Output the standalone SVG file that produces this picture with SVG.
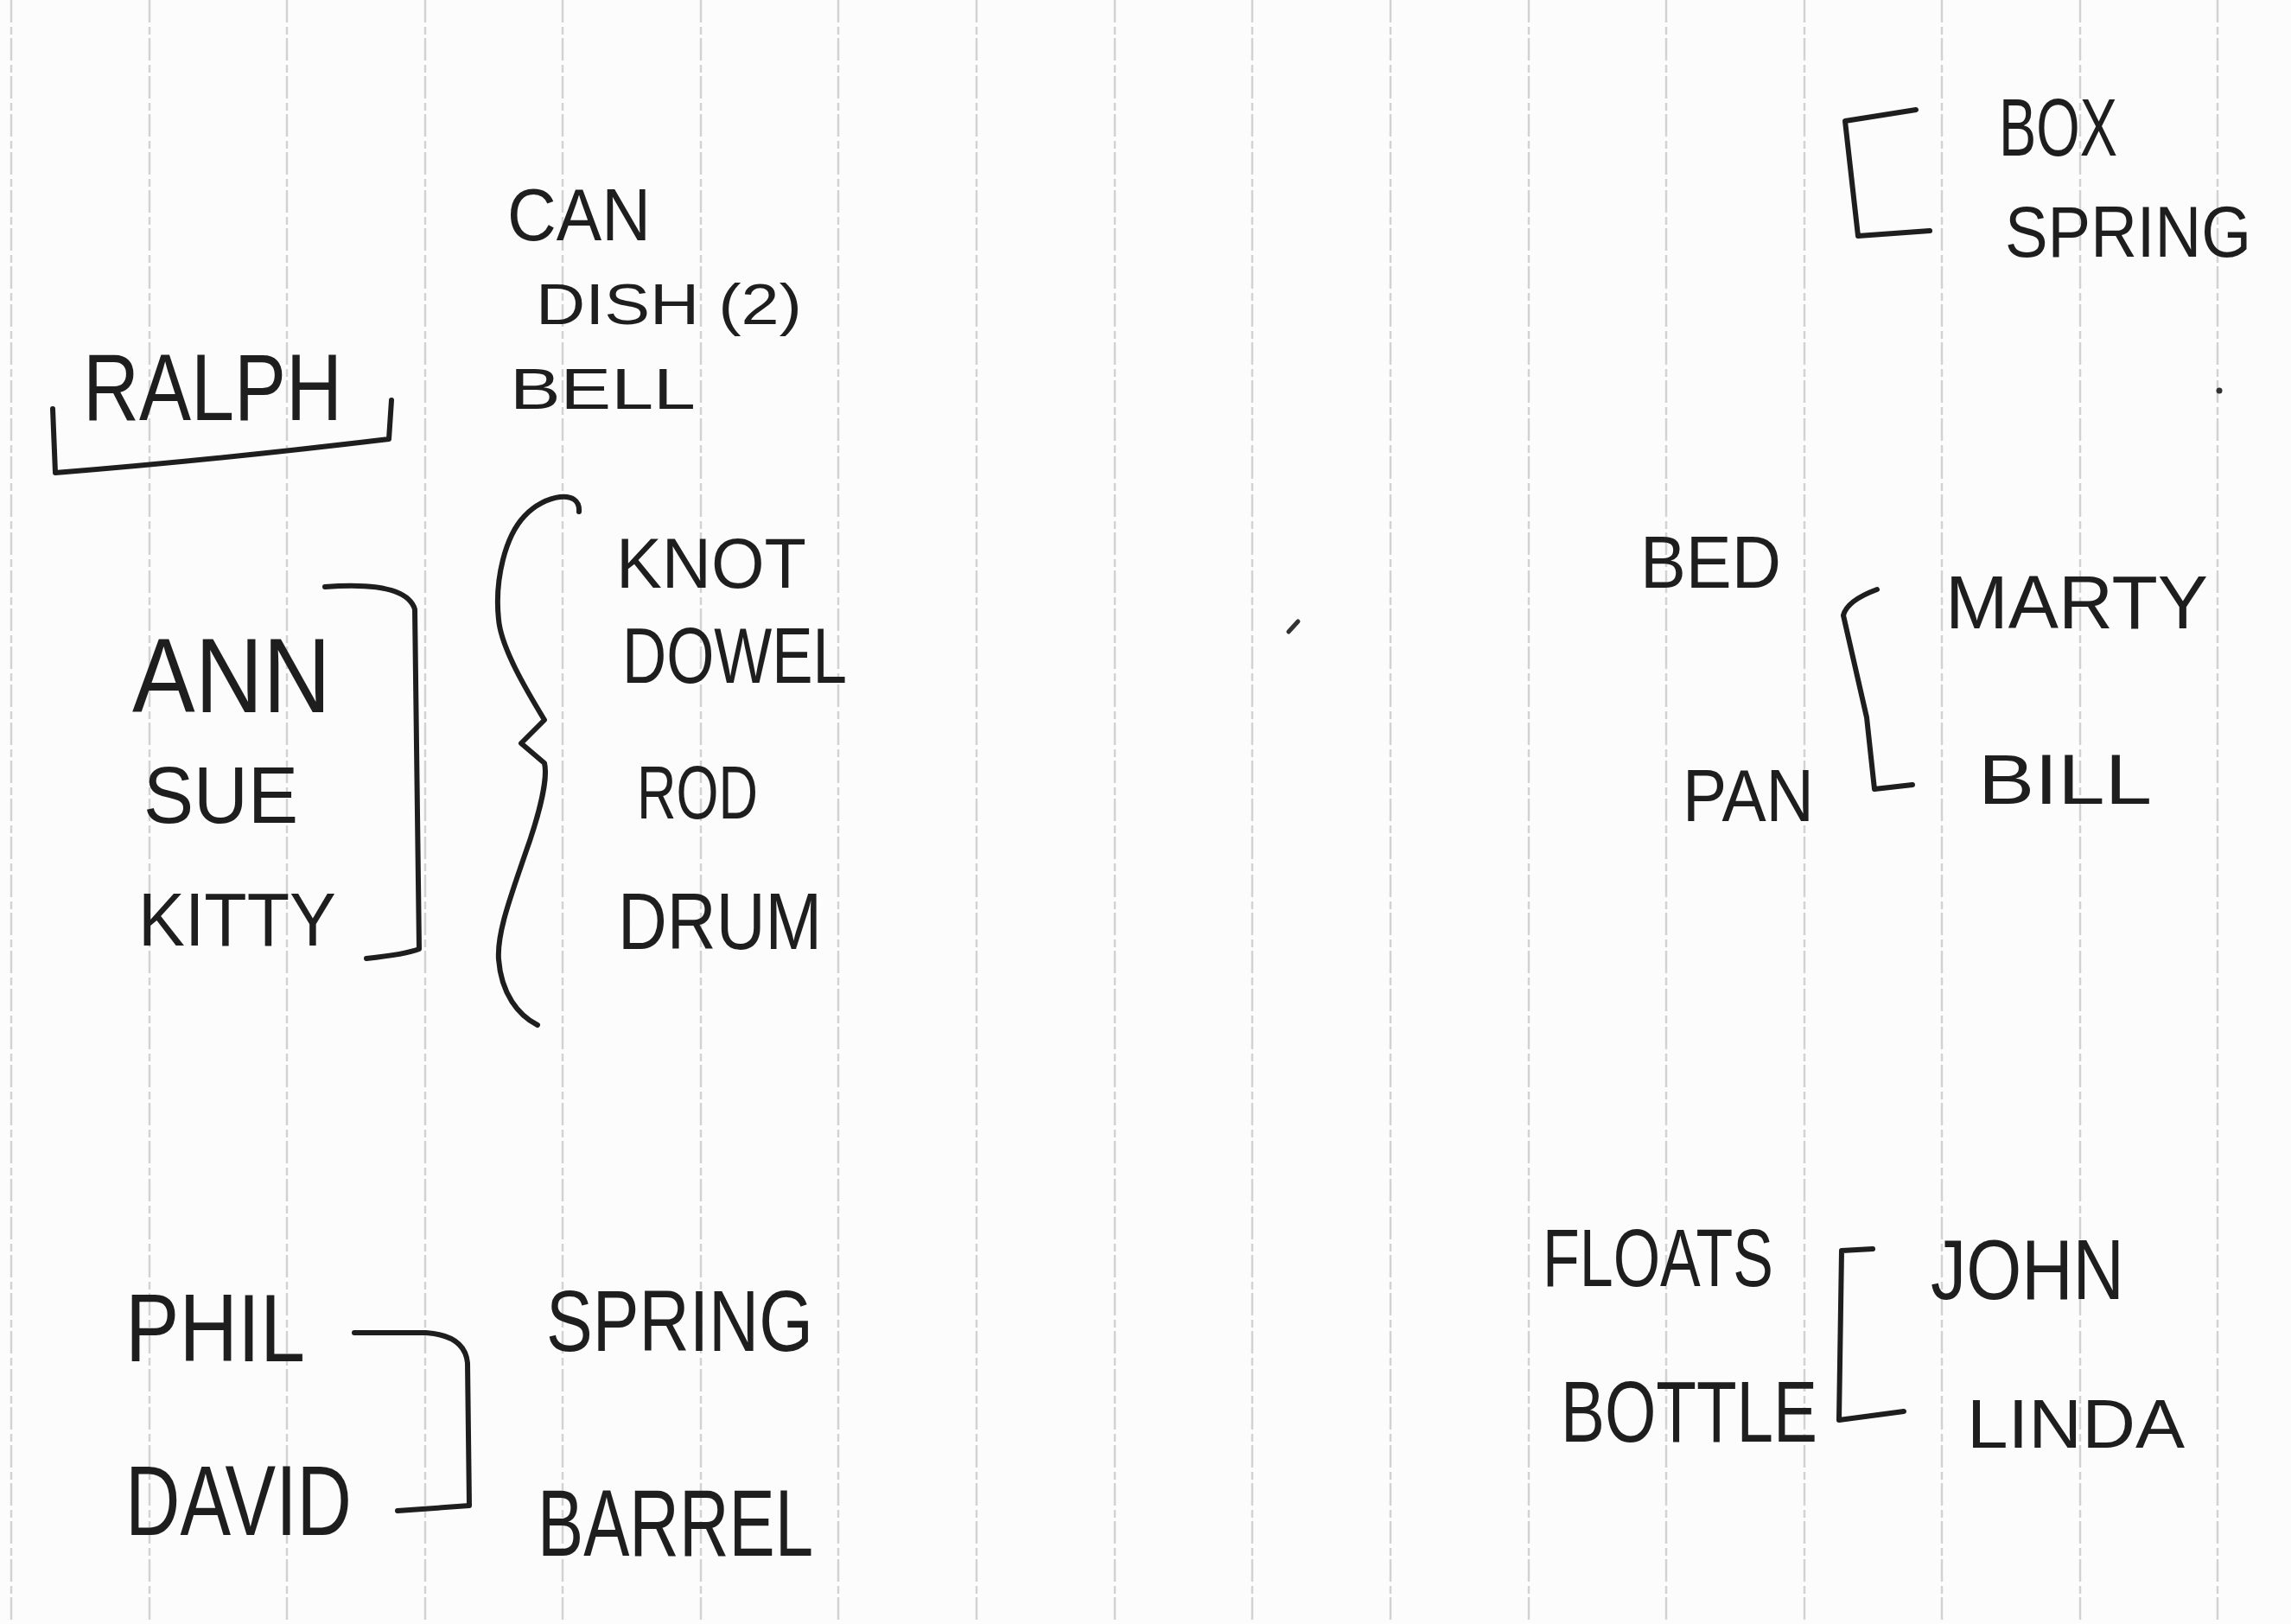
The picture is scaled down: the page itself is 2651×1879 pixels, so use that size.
<svg xmlns="http://www.w3.org/2000/svg" width="2651" height="1879" viewBox="0 0 2651 1879">
<style>
.bg{fill:#fcfcfc}
.grid line{stroke:#d2d2d2;stroke-width:2.5;stroke-dasharray:26 5 9 4}
.t{font-family:"Liberation Sans","DejaVu Sans",sans-serif;fill:#1e1e1e}
.c{fill:none;stroke:#1e1e1e;stroke-width:6;stroke-linecap:round;stroke-linejoin:round}
.m{fill:none;stroke:#333;stroke-width:5;stroke-linecap:round}
</style>
<rect class="bg" x="0" y="0" width="2651" height="1879"/>
<g class="grid">
<line x1="13" y1="0" x2="13" y2="1879"/>
<line x1="173" y1="0" x2="173" y2="1879"/>
<line x1="332" y1="0" x2="332" y2="1879"/>
<line x1="492" y1="0" x2="492" y2="1879"/>
<line x1="651" y1="0" x2="651" y2="1879"/>
<line x1="811" y1="0" x2="811" y2="1879"/>
<line x1="970" y1="0" x2="970" y2="1879"/>
<line x1="1130" y1="0" x2="1130" y2="1879"/>
<line x1="1290" y1="0" x2="1290" y2="1879"/>
<line x1="1449" y1="0" x2="1449" y2="1879"/>
<line x1="1609" y1="0" x2="1609" y2="1879"/>
<line x1="1769" y1="0" x2="1769" y2="1879"/>
<line x1="1928" y1="0" x2="1928" y2="1879"/>
<line x1="2088" y1="0" x2="2088" y2="1879"/>
<line x1="2247" y1="0" x2="2247" y2="1879"/>
<line x1="2407" y1="0" x2="2407" y2="1879"/>
<line x1="2566" y1="0" x2="2566" y2="1879"/>
</g>
<g id="connectors">
<path id="ralph-underline" class="c" d="M61,473 L64,547 Q250,532 450,508 L453,463"/>
<path id="ann-bracket" class="c" d="M376,679 Q470,672 480,705 L485,1098 Q470,1104 424,1109"/>
<path id="brace" class="c" d="M670,592 C672,565 630,572 607,597 C585,620 572,670 577,717 C580,750 610,800 630,833 L603,860 L630,883 C634,900 625,940 607,990 C590,1040 575,1080 577,1110 C580,1150 600,1175 622,1186"/>
<path id="phil-david" class="c" d="M410,1542 L493,1542 Q538,1545 541,1577 L543,1742 L460,1748"/>
<path id="box-bracket" class="c" d="M2217,127 L2135,140 L2150,273 L2233,267"/>
<path id="marty-bracket" class="c" d="M2172,682 Q2137,695 2133,712 L2160,830 L2169,913 L2213,908"/>
<path id="john-bracket" class="c" d="M2167,1445 L2131,1447 L2128,1643 L2203,1633"/>
</g>
<g id="marks">
<line class="m" x1="1491" y1="731" x2="1502" y2="719"/>
<circle cx="2568" cy="452" r="3.5" fill="#333"/>
</g>
<g id="n-can"><text class="t" x="587" y="278" font-size="85" textLength="166" lengthAdjust="spacingAndGlyphs">CAN</text></g>
<g id="n-dish"><text class="t" x="620" y="375" font-size="66" textLength="308" lengthAdjust="spacingAndGlyphs">DISH (2)</text></g>
<g id="n-bell"><text class="t" x="590" y="473" font-size="66" textLength="215" lengthAdjust="spacingAndGlyphs">BELL</text></g>
<g id="n-ralph"><text class="t" x="96" y="486" font-size="110" textLength="300" lengthAdjust="spacingAndGlyphs">RALPH</text></g>
<g id="n-knot"><text class="t" x="713" y="680" font-size="82" textLength="220" lengthAdjust="spacingAndGlyphs">KNOT</text></g>
<g id="n-dowel"><text class="t" x="720" y="790" font-size="90" textLength="260" lengthAdjust="spacingAndGlyphs">DOWEL</text></g>
<g id="n-rod"><text class="t" x="737" y="947" font-size="88" textLength="140" lengthAdjust="spacingAndGlyphs">ROD</text></g>
<g id="n-drum"><text class="t" x="715" y="1098" font-size="92" textLength="236" lengthAdjust="spacingAndGlyphs">DRUM</text></g>
<g id="n-ann"><text class="t" x="153" y="824" font-size="122" textLength="230" lengthAdjust="spacingAndGlyphs">ANN</text></g>
<g id="n-sue"><text class="t" x="166" y="952" font-size="92" textLength="179" lengthAdjust="spacingAndGlyphs">SUE</text></g>
<g id="n-kitty"><text class="t" x="160" y="1094" font-size="88" textLength="229" lengthAdjust="spacingAndGlyphs">KITTY</text></g>
<g id="n-phil"><text class="t" x="145" y="1575" font-size="112" textLength="208" lengthAdjust="spacingAndGlyphs">PHIL</text></g>
<g id="n-david"><text class="t" x="145" y="1776" font-size="115" textLength="262" lengthAdjust="spacingAndGlyphs">DAVID</text></g>
<g id="n-spring1"><text class="t" x="632" y="1563" font-size="100" textLength="309" lengthAdjust="spacingAndGlyphs">SPRING</text></g>
<g id="n-barrel"><text class="t" x="622" y="1800" font-size="110" textLength="319" lengthAdjust="spacingAndGlyphs">BARREL</text></g>
<g id="n-box"><text class="t" x="2313" y="180" font-size="95" textLength="137" lengthAdjust="spacingAndGlyphs">BOX</text></g>
<g id="n-spring2"><text class="t" x="2320" y="297" font-size="84" textLength="285" lengthAdjust="spacingAndGlyphs">SPRING</text></g>
<g id="n-bed"><text class="t" x="1898" y="680" font-size="86" textLength="163" lengthAdjust="spacingAndGlyphs">BED</text></g>
<g id="n-marty"><text class="t" x="2251" y="727" font-size="88" textLength="304" lengthAdjust="spacingAndGlyphs">MARTY</text></g>
<g id="n-pan"><text class="t" x="1947" y="950" font-size="86" textLength="152" lengthAdjust="spacingAndGlyphs">PAN</text></g>
<g id="n-bill"><text class="t" x="2289" y="930" font-size="82" textLength="201" lengthAdjust="spacingAndGlyphs">BILL</text></g>
<g id="n-floats"><text class="t" x="1785" y="1488" font-size="95" textLength="267" lengthAdjust="spacingAndGlyphs">FLOATS</text></g>
<g id="n-john"><text class="t" x="2234" y="1503" font-size="98" textLength="224" lengthAdjust="spacingAndGlyphs">JOHN</text></g>
<g id="n-bottle"><text class="t" x="1806" y="1668" font-size="100" textLength="297" lengthAdjust="spacingAndGlyphs">BOTTLE</text></g>
<g id="n-linda"><text class="t" x="2276" y="1675" font-size="80" textLength="252" lengthAdjust="spacingAndGlyphs">LINDA</text></g>
</svg>
